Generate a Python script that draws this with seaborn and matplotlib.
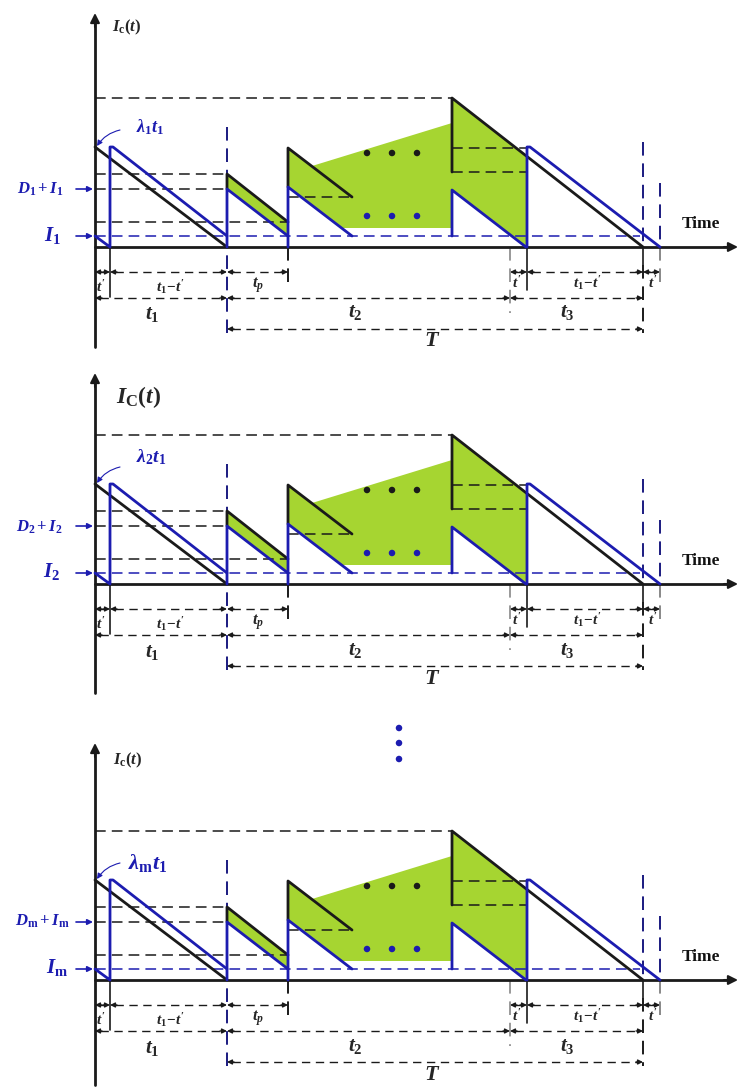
import numpy as np
import pandas as pd
import matplotlib
matplotlib.use('Agg')
import matplotlib.pyplot as plt
import seaborn as sns

sns.set_theme(style='white')
plt.rcParams['font.family'] = ['Liberation Serif', 'DejaVu Serif']
plt.rcParams['mathtext.fontset'] = 'custom'
plt.rcParams['mathtext.it'] = 'Liberation Serif:italic:bold'
plt.rcParams['mathtext.rm'] = 'Liberation Serif:bold'
plt.rcParams['mathtext.bf'] = 'Liberation Serif:bold:italic'

BLUE = '#1c1cb0'
GREEN = '#a6d531'

# ---- panels (pixel rows of the sketch) ----
panel_base = [247, 584, 980]          # time axis row
axis_top = [13, 373, 743]
axis_bottom = [347, 693, 1085]
panel_idx = ['1', '2', 'm']
ic_label = [r'$I_{\mathrm{c}}(t)$', r'$I_{\mathrm{C}}(t)$', r'$I_{\mathrm{c}}(t)$']
ic_pos = [(127, 27), (139, 397), (128, 760)]
ic_size = [12, 17, 12]
lam_pos = [(150, 127), (151, 457), (148, 863)]
lam_size = [13, 14, 16]
d_pos = [(40, 189), (39, 527), (42, 921)]
i_pos = [(52, 236), (52, 572), (57, 968)]

# ---- waveforms: x (time px) and height above the axis ----
black_x = [[95, 227], [227, 227, 288], [288, 288, 352], [452, 452, 643]]
black_h = [[100, 0], [58, 73, 25], [60, 99, 50], [75, 149, 0]]

blue_x = [[95, 110, 110, 113, 227], [227, 227, 288], [288, 288, 352],
          [452, 452, 526], [527, 527, 530, 660]]
blue_h = [[11, 0, 100, 100, 11], [0, 58, 11], [0, 60, 11],
          [11, 57, 0], [0, 100, 100, 0]]

# shaded areas
green_small_x = [227, 288, 288, 227]
green_small_h = [73, 25, 11, 58]
green_big_x = [288, 312, 452, 452, 527, 527, 525, 452, 452, 341, 288]
green_big_h = [99, 81, 124, 149, 91, 1, 1, 57, 19, 19, 60]

# dashed level lines: x0, x1, height, colour
h_dash = [(95, 452, 149, 'k'), (95, 227, 73, 'k'), (95, 227, 58, 'k'),
          (95, 288, 25, 'k'), (95, 640, 11, BLUE), (288, 352, 50, 'k'),
          (452, 527, 99, 'k'), (452, 527, 75, 'k')]
# vertical markers: x, h0, h1, colour, style
v_dash = [(227, 120, -86, '#1a1a80', '--'), (643, 105, 0, '#1a1a80', '--'),
          (660, 64, 0, '#1a1a80', '--'), (660, 0, -38, '#888888', '--'),
          (643, 0, -18, 'k', '-'), (643, -18, -86, 'k', '--'),
          (288, 0, -36, 'k', '--'), (510, 0, -66, '#999999', '--'),
          (110, 0, -50, 'k', '-'), (527, 0, -43, 'k', '-')]

# dimension rows: x0, x1, height, label, label x, label height
dims = [(95, 110, -25, r"$t'$", 101, -40),
        (110, 227, -25, r"$t_1\!-\!t'$", 170, -40),
        (227, 288, -25, r'$t_p$', 258, -38),
        (510, 527, -25, r"$t'$", 517, -36),
        (527, 643, -25, r"$t_1\!-\!t'$", 587, -36),
        (643, 660, -25, r"$t'$", 653, -36),
        (95, 227, -51, r'$t_1$', 152, -68),
        (227, 510, -51, r'$t_2$', 355, -66),
        (510, 643, -51, r'$t_3$', 567, -66),
        (227, 643, -82, r'$T$', 432, -95)]
dim_size = [11, 11, 12, 11, 11, 11, 15, 15, 15, 16]

dots_x = [367, 392, 417]
dots_h_black = [94, 94, 94]
dots_h_blue = [31, 31, 31]
vdots_x = [399, 399, 399]
vdots_y = [728, 743, 759]

fig = plt.figure(figsize=(7.38, 10.89), dpi=100)
ax = fig.add_axes([0, 0, 1, 1])
ax.set_xlim(0, 738)
ax.set_ylim(1089, 0)
ax.axis('off')


def seg_frame(xs, hs, base):
    rows = []
    for k, (sx, sh) in enumerate(zip(xs, hs)):
        for x, h in zip(sx, sh):
            rows.append((k, x, base - h))
    return pd.DataFrame(rows, columns=['seg', 'x', 'y'])


def head(x, y, dx):
    ax.annotate('', xy=(x, y), xytext=(x + dx, y),
                arrowprops=dict(arrowstyle='-|>', color='k', lw=1,
                                mutation_scale=7, shrinkA=0, shrinkB=0))


for p, base in enumerate(panel_base):
    n = panel_idx[p]
    # fills
    ax.fill([x for x in green_big_x], [base - h for h in green_big_h],
            color=GREEN, lw=0, zorder=1)
    ax.fill(green_small_x, [base - h for h in green_small_h],
            color=GREEN, lw=0, zorder=1)

    for x0, x1, h, c in h_dash:
        ax.plot([x0, x1], [base - h, base - h], color=c, lw=1.1,
                dashes=(7, 4), zorder=2)
    for x, h0, h1, c, ls in v_dash:
        if ls == '--':
            ax.plot([x, x], [base - h0, base - h1], color=c, lw=1.4,
                    dashes=(7, 4), zorder=2)
        else:
            ax.plot([x, x], [base - h0, base - h1], color=c, lw=1.2, zorder=2)

    sns.lineplot(data=seg_frame(black_x, black_h, base), x='x', y='y',
                 units='seg', estimator=None, sort=False, color='k',
                 lw=2.0, ax=ax, zorder=4)
    sns.lineplot(data=seg_frame(blue_x, blue_h, base), x='x', y='y',
                 units='seg', estimator=None, sort=False, color=BLUE,
                 lw=2.0, ax=ax, zorder=5)

    sns.scatterplot(x=dots_x, y=[base - h for h in dots_h_black], color='k',
                    s=22, ax=ax, zorder=6, edgecolor='none')
    sns.scatterplot(x=dots_x, y=[base - h for h in dots_h_blue], color=BLUE,
                    s=22, ax=ax, zorder=6, edgecolor='none')

    # axes with arrows
    ax.plot([95, 95], [axis_bottom[p], axis_top[p] + 8], color='k', lw=2, zorder=3)
    ax.annotate('', xy=(95, axis_top[p]), xytext=(95, axis_top[p] + 14),
                arrowprops=dict(arrowstyle='-|>', color='k', lw=1.5,
                                mutation_scale=14, shrinkA=0, shrinkB=0))
    ax.plot([95, 728], [base, base], color='k', lw=2, zorder=3)
    ax.annotate('', xy=(738, base), xytext=(724, base),
                arrowprops=dict(arrowstyle='-|>', color='k', lw=1.5,
                                mutation_scale=14, shrinkA=0, shrinkB=0))
    ax.text(701, base - 23, 'Time', fontsize=12.5, fontweight='bold',
            ha='center', va='center', color='#111111')

    # dimension lines
    for (x0, x1, h, lab, lx, lh), fs in zip(dims, dim_size):
        y = base - h
        ax.plot([x0 + 5, x1 - 5], [y, y], color='k', lw=1, dashes=(6, 4))
        head(x0, y, 7)
        head(x1, y, -7)
        ax.text(lx, base - lh, lab, fontsize=fs, ha='center', va='center')

    # labels
    ax.text(*ic_pos[p], ic_label[p], fontsize=ic_size[p], ha='center', va='center')
    ax.text(*lam_pos[p], r'$\lambda_{\mathrm{%s}}t_1$' % n, fontsize=lam_size[p],
            color=BLUE, ha='center', va='center')
    ax.annotate('', xy=(97, base - 101), xytext=(120, base - 117),
                arrowprops=dict(arrowstyle='-|>', color=BLUE, lw=0.8,
                                mutation_scale=8, shrinkA=0, shrinkB=0,
                                connectionstyle='arc3,rad=0.2'))
    ax.text(*d_pos[p], r'$D_{\mathrm{%s}}+I_{\mathrm{%s}}$' % (n, n), fontsize=12,
            color=BLUE, ha='center', va='center')
    ax.text(*i_pos[p], r'$I_{\mathrm{%s}}$' % n, fontsize=15,
            color=BLUE, ha='center', va='center')
    for lvl in (58, 11):
        ax.annotate('', xy=(93, base - lvl), xytext=(76, base - lvl),
                    arrowprops=dict(arrowstyle='-|>', color=BLUE, lw=1.2,
                                    mutation_scale=8, shrinkA=0, shrinkB=0))

sns.scatterplot(x=vdots_x, y=vdots_y, color=BLUE, s=22, ax=ax,
                edgecolor='none')
ax.set_xlim(0, 738)
ax.set_ylim(1089, 0)
ax.axis('off')

fig.savefig('out.png', dpi=100)
